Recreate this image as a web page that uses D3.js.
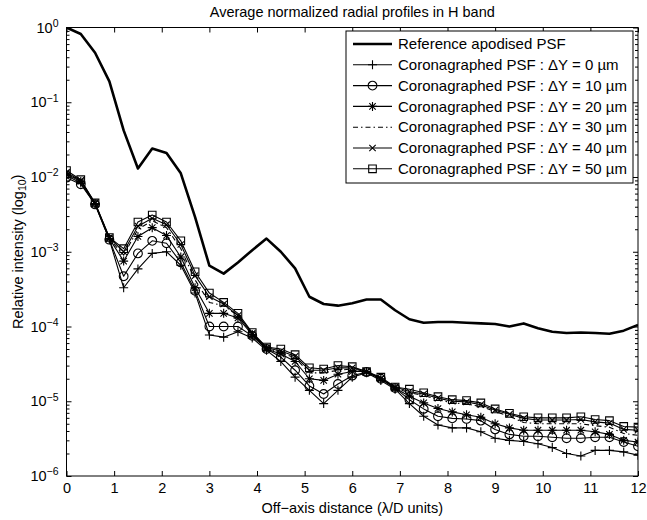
<!DOCTYPE html>
<html><head><meta charset="utf-8">
<script src="https://cdn.jsdelivr.net/npm/d3@7"></script>
<style>body{margin:0;background:#fff} text{font-family:"Liberation Sans",Arial,Helvetica,sans-serif;fill:#000}</style>
</head><body><svg id="c" width="647" height="520"></svg>
<script>
// ---------- data ----------
const distance = [0,0.3,0.6,0.9,1.2,1.5,1.8,2.1,2.4,2.7,3.0,3.3,3.6,3.9,4.2,4.5,4.8,5.1,5.4,5.7,6.0,6.3,6.6,6.9,7.2,7.5,7.8,8.1,8.4,8.7,9.0,9.3,9.6,9.9,10.2,10.5,10.8,11.1,11.4,11.7,12.0];
const reference = [1.0,0.82,0.46,0.19,0.042,0.013,0.024,0.021,0.0112,0.0029,6.5e-4,5.1e-4,7.2e-4,1.05e-3,1.5e-3,1.0e-3,6.0e-4,2.5e-4,2.0e-4,1.9e-4,2.05e-4,2.3e-4,2.3e-4,1.65e-4,1.25e-4,1.12e-4,1.15e-4,1.15e-4,1.12e-4,1.1e-4,1.08e-4,1.0e-4,1.1e-4,9.5e-5,8.5e-5,8.2e-5,8.3e-5,8.2e-5,8.0e-5,8.8e-5,1.05e-4];
const dY0  = [1.05e-2,8.3e-3,4.3e-3,1.45e-3,3.3e-4,5.9e-4,9.5e-4,1.0e-3,6.6e-4,2.8e-4,7.7e-5,7.2e-5,8.5e-5,7.0e-5,4.8e-5,3.4e-5,2.1e-5,1.4e-5,9.3e-6,1.4e-5,2.1e-5,2.4e-5,1.9e-5,1.45e-5,9.3e-6,6.3e-6,4.8e-6,4.4e-6,4.4e-6,3.9e-6,3.2e-6,3.0e-6,2.9e-6,2.7e-6,2.4e-6,2.0e-6,1.85e-6,2.2e-6,2.2e-6,2.1e-6,1.9e-6];
const dY10 = [9.8e-3,8.0e-3,4.3e-3,1.45e-3,4.7e-4,9.5e-4,1.4e-3,1.3e-3,7.2e-4,3.0e-4,1.0e-4,1.0e-4,1.0e-4,7.5e-5,5.0e-5,3.9e-5,2.6e-5,1.6e-5,1.25e-5,1.7e-5,2.2e-5,2.45e-5,2.0e-5,1.5e-5,1.05e-5,7.9e-6,6.3e-6,5.9e-6,5.8e-6,5.5e-6,4.2e-6,3.6e-6,3.4e-6,3.4e-6,3.3e-6,3.2e-6,3.2e-6,3.3e-6,3.3e-6,2.85e-6,2.5e-6];
const dY20 = [1.1e-2,8.7e-3,4.4e-3,1.5e-3,7.5e-4,1.6e-3,2.1e-3,1.65e-3,8.5e-4,3.3e-4,1.5e-4,1.5e-4,1.3e-4,7.8e-5,5.0e-5,4.3e-5,3.4e-5,2.0e-5,1.9e-5,2.3e-5,2.5e-5,2.5e-5,2.0e-5,1.5e-5,1.17e-5,9.5e-6,8.0e-6,7.2e-6,6.6e-6,6.1e-6,5.0e-6,4.4e-6,4.1e-6,4.1e-6,4.1e-6,4.1e-6,4.1e-6,3.9e-6,3.6e-6,3.0e-6,2.85e-6];
const dY30 = [1.12e-2,8.8e-3,4.4e-3,1.5e-3,9.0e-4,2.0e-3,2.6e-3,2.1e-3,1.1e-3,4.2e-4,2.1e-4,1.9e-4,1.4e-4,8.0e-5,5.1e-5,4.5e-5,3.8e-5,2.4e-5,2.4e-5,2.6e-5,2.7e-5,2.5e-5,2.0e-5,1.5e-5,1.3e-5,1.2e-5,1.05e-5,9.5e-6,9.2e-6,8.5e-6,7.3e-6,6.3e-6,5.2e-6,5.0e-6,5.0e-6,5.0e-6,5.0e-6,4.7e-6,4.5e-6,3.7e-6,3.5e-6];
const dY40 = [1.15e-2,9.0e-3,4.5e-3,1.55e-3,1.0e-3,2.2e-3,2.8e-3,2.3e-3,1.25e-3,4.8e-4,2.5e-4,2.0e-4,1.4e-4,8.1e-5,5.2e-5,4.7e-5,4.0e-5,2.6e-5,2.6e-5,2.8e-5,2.8e-5,2.5e-5,2.0e-5,1.55e-5,1.35e-5,1.25e-5,1.1e-5,1.0e-5,9.8e-6,9.0e-6,7.6e-6,6.7e-6,5.9e-6,5.6e-6,5.6e-6,5.6e-6,5.7e-6,5.3e-6,5.1e-6,4.2e-6,4.1e-6];
const dY50 = [1.22e-2,9.2e-3,4.5e-3,1.55e-3,1.1e-3,2.5e-3,3.1e-3,2.5e-3,1.4e-3,5.4e-4,2.8e-4,2.1e-4,1.5e-4,8.3e-5,5.3e-5,5.0e-5,4.2e-5,2.8e-5,2.7e-5,3.0e-5,2.9e-5,2.5e-5,2.1e-5,1.55e-5,1.45e-5,1.3e-5,1.15e-5,1.05e-5,1.02e-5,9.5e-6,7.9e-6,6.9e-6,6.2e-6,6.0e-6,6.0e-6,6.0e-6,6.2e-6,5.7e-6,5.5e-6,4.6e-6,4.5e-6];
const legendLabels = ["Reference apodised PSF","Coronagraphed PSF : \u0394Y = 0 \u00b5m","Coronagraphed PSF : \u0394Y = 10 \u00b5m","Coronagraphed PSF : \u0394Y = 20 \u00b5m","Coronagraphed PSF : \u0394Y = 30 \u00b5m","Coronagraphed PSF : \u0394Y = 40 \u00b5m","Coronagraphed PSF : \u0394Y = 50 \u00b5m"];
const xTicks = [0,1,2,3,4,5,6,7,8,9,10,11,12];
const yExponents = [0,-1,-2,-3,-4,-5,-6];
const titleText = "Average normalized radial profiles in H band";
const xLabel = "Off\u2212axis distance (\u03bb/D units)";

// ---------- chart ----------
const svg = d3.select("#c");
const L=66.5, R=638, T=27.5, B=476;
const x = d3.scaleLinear().domain([0,12]).range([L,R]);
const y = d3.scaleLog().domain([1e-6,1]).range([B,T]);

svg.append("defs").append("clipPath").attr("id","clip")
  .append("rect").attr("x",L).attr("y",T).attr("width",R-L).attr("height",B-T);

const minor = [];
yExponents.slice(1).forEach(e=>{ for(let k=2;k<=9;k++) minor.push(k*Math.pow(10,e)); });

function strip(g){ g.select(".domain").remove(); }
svg.append("g").attr("transform",`translate(0,${B})`)
  .call(d3.axisBottom(x).tickValues(xTicks).tickSize(-5).tickPadding(7).tickFormat(d3.format("d")))
  .call(strip).call(g=>g.selectAll("text").attr("font-size",14.5).attr("dy","0.71em"));
svg.append("g").attr("transform",`translate(0,${T})`)
  .call(d3.axisTop(x).tickValues(xTicks).tickSize(-5).tickFormat("")).call(strip);
svg.append("g").attr("transform",`translate(${L},0)`)
  .call(d3.axisLeft(y).tickValues(minor).tickSize(-3).tickFormat("")).call(strip);
svg.append("g").attr("transform",`translate(${R},0)`)
  .call(d3.axisRight(y).tickValues(minor).tickSize(-3).tickFormat("")).call(strip);
svg.append("g").attr("transform",`translate(${R},0)`)
  .call(d3.axisRight(y).tickValues(yExponents.map(e=>Math.pow(10,e))).tickSize(-5).tickFormat("")).call(strip);
const yl = svg.append("g").attr("transform",`translate(${L},0)`)
  .call(d3.axisLeft(y).tickValues(yExponents.map(e=>Math.pow(10,e))).tickSize(-5).tickPadding(6).tickFormat(""))
  .call(strip);
yl.selectAll(".tick text").each(function(d){
  const t=d3.select(this).attr("font-size",14.5).attr("dy","0.32em").attr("x",-8);
  const e=Math.round(Math.log10(d));
  t.append("tspan").text("10");
  t.append("tspan").attr("dy","-0.55em").attr("font-size",10.5).text(e===0?"0":"\u2212"+(-e));
});
svg.selectAll(".tick line").attr("stroke","#000");

svg.append("rect").attr("x",L).attr("y",T).attr("width",R-L).attr("height",B-T)
  .attr("fill","none").attr("stroke","#000").attr("stroke-width",1);

const markers = {
  plus: "M-4.5,0H4.5M0,-4.5V4.5",
  circle: d3.symbol(d3.symbolCircle, 60)(),
  star: "M-4.5,0H4.5M0,-4.5V4.5M-3.2,-3.2L3.2,3.2M-3.2,3.2L3.2,-3.2",
  none: "",
  cross: "M-3.2,-3.2L3.2,3.2M-3.2,3.2L3.2,-3.2",
  square: "M-3.8,-3.8H3.8V3.8H-3.8Z"
};
const series = [
  {vals: reference, w: 2.6, marker: "none", dash: null},
  {vals: dY0, w: 1.1, marker: "plus", dash: null},
  {vals: dY10, w: 1.1, marker: "circle", dash: null},
  {vals: dY20, w: 1.1, marker: "star", dash: null},
  {vals: dY30, w: 1.1, marker: "none", dash: "5,3,1.5,3"},
  {vals: dY40, w: 1.1, marker: "cross", dash: null},
  {vals: dY50, w: 1.1, marker: "square", dash: null}
];
const line = d3.line().x((d,i)=>x(distance[i])).y(d=>y(d));
const plot = svg.append("g").attr("clip-path","url(#clip)");
series.slice().reverse().forEach(s=>{
  plot.append("path").datum(s.vals).attr("d",line).attr("fill","none")
    .attr("stroke","#000").attr("stroke-width",s.w).attr("stroke-linejoin","round")
    .attr("stroke-dasharray",s.dash);
  if(s.marker!=="none"){
    plot.selectAll(null).data(s.vals).enter().append("path")
      .attr("d",markers[s.marker]).attr("transform",(d,i)=>`translate(${x(distance[i])},${y(d)})`)
      .attr("fill","none").attr("stroke","#000").attr("stroke-width",1.1);
  }
});

svg.append("text").attr("x",(L+R)/2).attr("y",17).attr("text-anchor","middle").attr("font-size",14.5).text(titleText);
svg.append("text").attr("x",(L+R)/2).attr("y",513).attr("text-anchor","middle").attr("font-size",14.5).text(xLabel);
const ylab = svg.append("text").attr("transform",`translate(23,${(T+B)/2}) rotate(-90)`).attr("text-anchor","middle").attr("font-size",14.5);
ylab.append("tspan").text("Relative intensity (log");
ylab.append("tspan").attr("dy","0.3em").attr("font-size",10.5).text("10");
ylab.append("tspan").attr("dy","-0.3em").text(")");

const lg = svg.append("g");
const lx0=346, lx1=633, ly0=31, rowH=20.8, row0=44, ly1=183;
lg.append("rect").attr("x",lx0).attr("y",ly0).attr("width",lx1-lx0).attr("height",ly1-ly0)
  .attr("fill","#fff").attr("stroke","#000").attr("stroke-width",1);
series.forEach((s,i)=>{
  const yy = row0+rowH*i;
  lg.append("line").attr("x1",353).attr("x2",392).attr("y1",yy).attr("y2",yy)
    .attr("stroke","#000").attr("stroke-width",s.w).attr("stroke-dasharray",s.dash);
  if(s.marker!=="none") lg.append("path").attr("d",markers[s.marker]).attr("transform",`translate(372.5,${yy})`)
    .attr("fill","none").attr("stroke","#000").attr("stroke-width",1.1);
  lg.append("text").attr("x",398).attr("y",yy).attr("dy","0.35em").attr("font-size",15).text(legendLabels[i]);
});
</script></body></html>
